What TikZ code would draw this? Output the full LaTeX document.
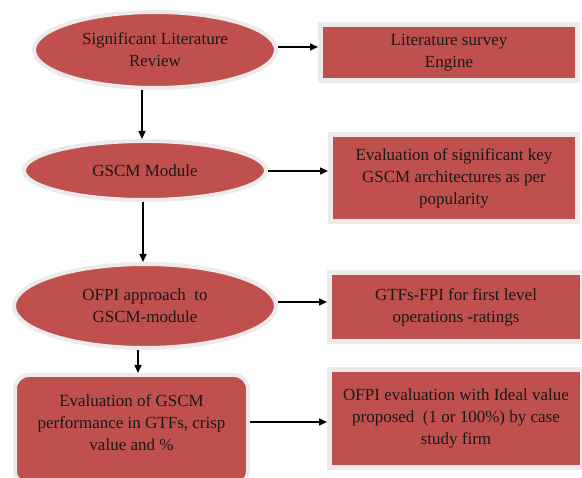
\documentclass[tikz,border=0pt]{standalone}
\usepackage{fontspec}
\setmainfont{Liberation Serif}
\usetikzlibrary{shapes.geometric,arrows.meta}
\definecolor{boxred}{HTML}{C0504D}
\definecolor{rim}{HTML}{EBEBEB}
\tikzset{
  txt/.style={font=\fontsize{17}{22}\selectfont, align=center, text=black!90, inner sep=0pt},
  oval/.style={ellipse, fill=boxred, draw=rim, line width=4pt, inner sep=0pt, txt},
  sbox/.style={rectangle, fill=boxred, draw=rim, line width=5pt, inner sep=0pt, txt},
  rbox/.style={rectangle, rounded corners=14pt, fill=boxred, draw=rim, line width=4pt, inner sep=0pt},
  arr/.style={line width=1.4pt, -{Triangle[length=8pt,width=7pt]}}
}
\begin{document}
\begin{tikzpicture}[x=1pt,y=-1pt]
\useasboundingbox (0,0) rectangle (582,478);
\clip (0,0) rectangle (582,478);
\fill[white] (0,0) rectangle (582,478);

\node[oval, minimum width=242pt, minimum height=76pt] (e1) at (155,50) {Significant Literature\\Review};
\node[oval, minimum width=242pt, minimum height=59pt] (e2) at (145,170.5) {GSCM Module};
\node[oval, minimum width=262pt, minimum height=84pt] (e3) at (145,306) {OFPI approach\ \ to\\GSCM-module};
\node[rbox, minimum width=233pt, minimum height=110pt] (r4) at (131.5,430) {};
\node[txt] (t4) at (131.5,423) {Evaluation of GSCM\\performance in GTFs, crisp\\value and \%};

\node[sbox, minimum width=257pt, minimum height=56pt] (b1) at (449,52.5) {Literature survey\\Engine};
\node[sbox, minimum width=247pt, minimum height=87pt] (b2) at (454,178) {Evaluation of significant key\\GSCM architectures as per\\popularity};
\node[sbox, minimum width=253pt, minimum height=69pt] (b3) at (456,307) {GTFs-FPI for first level\\operations -ratings};
\node[sbox, minimum width=253pt, minimum height=98pt] (b4) at (456,418.5) {OFPI evaluation with Ideal value\\proposed\ \ (1 or 100\%) by case\\study firm};

\coordinate (c1) at (142,0);
\coordinate (c2) at (143,0);
\coordinate (c3) at (138,0);
\coordinate (h1) at (0,47);
\coordinate (h2) at (0,171);
\coordinate (h3) at (0,302);
\coordinate (h4) at (0,422);

\draw[arr] (e1.east |- h1) -- (b1.west |- h1);
\draw[arr] (e2.east |- h2) -- (b2.west |- h2);
\draw[arr] (e3.east |- h3) -- (b3.west |- h3);
\draw[arr] (r4.east |- h4) -- (b4.west |- h4);

\draw[arr] (e1.south -| c1) -- (e2.north -| c1);
\draw[arr] (e2.south -| c2) -- (e3.north -| c2);
\draw[arr] (e3.south -| c3) -- (r4.north -| c3);
\end{tikzpicture}
\end{document}
